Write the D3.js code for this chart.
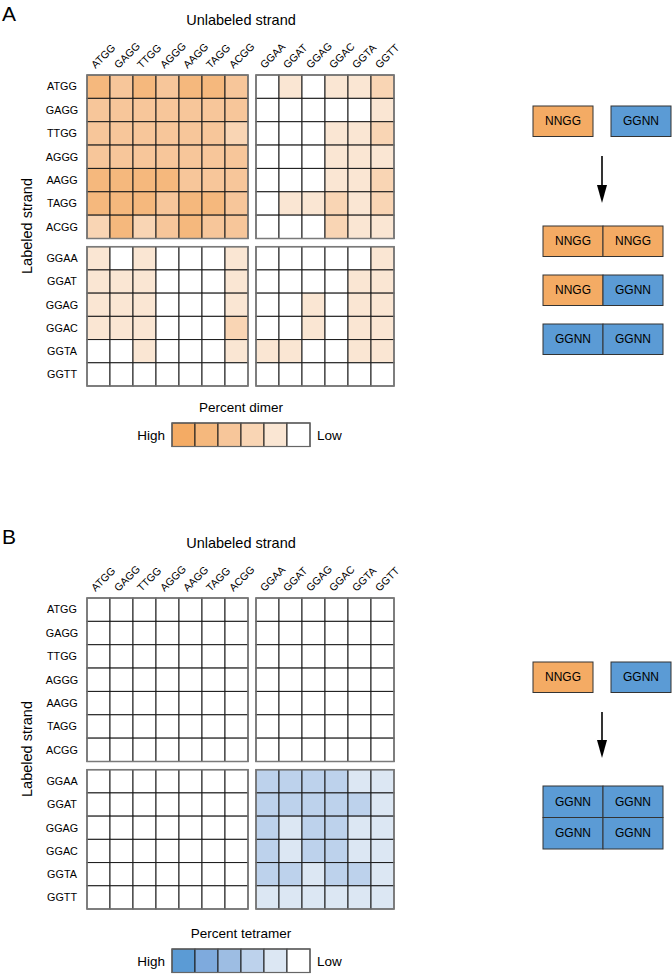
<!DOCTYPE html>
<html><head><meta charset="utf-8">
<script src="https://cdn.jsdelivr.net/npm/d3@7"></script>
<style>body{margin:0;background:#fff}svg{display:block;font-family:"Liberation Sans",Arial,sans-serif}</style>
</head><body>
<svg id="c" width="672" height="977"></svg>
<script>
// ---- data ----
const nnggSeqs = ["ATGG","GAGG","TTGG","AGGG","AAGG","TAGG","ACGG"];
const ggnnSeqs = ["GGAA","GGAT","GGAG","GGAC","GGTA","GGTT"];
// level codes: 1 = High ... 5 = lowest shaded, 0 = Low (white)
const dimerNN_NN = [
  [2,3,2,3,2,2,3],
  [3,3,3,3,3,3,3],
  [3,3,3,3,3,3,4],
  [3,3,3,3,3,3,3],
  [2,2,2,2,3,3,3],
  [2,2,2,3,2,2,3],
  [4,2,4,3,2,3,3]];
const dimerNN_GG = [
  [0,5,0,5,5,4],
  [0,0,0,0,0,5],
  [0,0,0,5,5,4],
  [0,0,0,5,5,5],
  [0,0,0,5,5,4],
  [0,5,5,4,5,4],
  [0,0,0,4,5,5]];
const dimerGG_NN = [
  [5,0,5,0,0,0,5],
  [5,5,5,0,0,0,5],
  [5,5,5,0,0,0,5],
  [5,5,5,0,0,0,4],
  [0,0,5,0,0,0,5],
  [0,0,0,0,0,0,0]];
const dimerGG_GG = [
  [0,0,0,0,0,5],
  [0,0,0,0,5,5],
  [0,0,5,0,5,5],
  [0,0,5,0,5,5],
  [5,5,0,0,5,5],
  [0,0,0,0,0,0]];
const tetNN_NN = nnggSeqs.map(() => nnggSeqs.map(() => 0));
const tetNN_GG = nnggSeqs.map(() => ggnnSeqs.map(() => 0));
const tetGG_NN = ggnnSeqs.map(() => nnggSeqs.map(() => 0));
const tetGG_GG = [
  [4,4,4,4,5,5],
  [4,4,4,4,4,5],
  [4,5,4,4,5,5],
  [4,5,4,4,5,5],
  [4,4,5,4,4,5],
  [5,5,5,5,5,5]];
const legendLevels = [1,2,3,4,5,0];
const orangeColors = ["#ffffff","#F4AB64","#F5B87D","#F7C69A","#F9D5B4","#FAE6D3"];
const blueColors   = ["#ffffff","#5B9BD5","#7EAADD","#9DBDE3","#BDD2EC","#DCE7F3"];

// ---- drawing ----
const svg = d3.select("#c");
const colL = d3.scaleBand().domain(nnggSeqs).range([87,248]);
const colR = d3.scaleBand().domain(ggnnSeqs).range([256,394]);

function block(g, rows, cols, rowScale, colScale, data, colors){
  const cells = [];
  rows.forEach((r,i)=>cols.forEach((c,j)=>cells.push({r,c,v:data[i][j]})));
  g.selectAll(null).data(cells).join("rect")
    .attr("x",d=>colScale(d.c)).attr("y",d=>rowScale(d.r))
    .attr("width",colScale.bandwidth()).attr("height",rowScale.bandwidth())
    .attr("fill",d=>colors[d.v]).attr("stroke","#1a1a1a").attr("stroke-width",1);
  const [x0,x1]=colScale.range(), [y0,y1]=rowScale.range();
  g.append("rect").attr("x",x0).attr("y",y0).attr("width",x1-x0).attr("height",y1-y0)
    .attr("fill","none").attr("stroke","#7a7a7a").attr("stroke-width",1.5);
}

function panel(oy, letter, mats, colors, legendTitle, diagram){
  const g = svg.append("g");
  const rowT = d3.scaleBand().domain(nnggSeqs).range([oy+75, oy+238.5]);
  const rowB = d3.scaleBand().domain(ggnnSeqs).range([oy+246.7, oy+386]);
  g.append("text").attr("x",2).attr("y",oy+21).attr("font-size",21).text(letter);
  g.append("text").attr("x",241).attr("y",oy+25).attr("text-anchor","middle").attr("font-size",14.5).text("Unlabeled strand");
  g.append("text").attr("transform",`translate(32,${oy+226}) rotate(-90)`).attr("text-anchor","middle").attr("font-size",14.5).text("Labeled strand");
  // column labels
  [[nnggSeqs,colL],[ggnnSeqs,colR]].forEach(([seqs,sc])=>{
    g.selectAll(null).data(seqs).join("text")
      .attr("transform",d=>`translate(${sc(d)+sc.bandwidth()/2-3},${oy+69}) rotate(-45)`)
      .attr("font-size",10.5).text(d=>d);
  });
  // row labels
  [[nnggSeqs,rowT],[ggnnSeqs,rowB]].forEach(([seqs,sc])=>{
    g.selectAll(null).data(seqs).join("text")
      .attr("x",62).attr("y",d=>sc(d)+sc.bandwidth()/2+3.8)
      .attr("text-anchor","middle").attr("font-size",10.8).text(d=>d);
  });
  block(g, nnggSeqs, nnggSeqs, rowT, colL, mats[0], colors);
  block(g, nnggSeqs, ggnnSeqs, rowT, colR, mats[1], colors);
  block(g, ggnnSeqs, nnggSeqs, rowB, colL, mats[2], colors);
  block(g, ggnnSeqs, ggnnSeqs, rowB, colR, mats[3], colors);
  // legend
  const ly = oy + legendTitle.y;
  const lx = d3.scaleBand().domain(legendLevels).range([172,310]);
  g.append("text").attr("x",241).attr("y",ly).attr("text-anchor","middle").attr("font-size",13.5).text(legendTitle.text);
  g.selectAll(null).data(legendLevels).join("rect")
    .attr("x",d=>lx(d)).attr("y",ly+11).attr("width",lx.bandwidth()).attr("height",23.5)
    .attr("fill",d=>colors[d]).attr("stroke","#1a1a1a").attr("stroke-width",1);
  g.append("rect").attr("x",172).attr("y",ly+11).attr("width",138).attr("height",23.5)
    .attr("fill","none").attr("stroke","#666").attr("stroke-width",1.2);
  g.append("text").attr("x",165).attr("y",ly+27.5).attr("text-anchor","end").attr("font-size",13.5).text("High");
  g.append("text").attr("x",317).attr("y",ly+27.5).attr("font-size",13.5).text("Low");
  diagram(g, oy);
}

const ORANGE = "#F4AB64", BLUE = "#5B9BD5";
function box(g, x, y, w, h, fill, label){
  g.append("rect").attr("x",x).attr("y",y).attr("width",w).attr("height",h)
    .attr("fill",fill).attr("stroke","#333").attr("stroke-width",1);
  g.append("text").attr("x",x+w/2).attr("y",y+h/2+4.2).attr("text-anchor","middle").attr("font-size",12).text(label);
}
function arrow(g, x, y0, y1){
  g.append("line").attr("x1",x).attr("x2",x).attr("y1",y0).attr("y2",y1-16).attr("stroke","#000").attr("stroke-width",1.6);
  g.append("path").attr("d",`M${x-5},${y1-18}L${x+5},${y1-18}L${x},${y1}Z`).attr("fill","#000");
}

panel(0, "A", [dimerNN_NN, dimerNN_GG, dimerGG_NN, dimerGG_GG], orangeColors,
  {text:"Percent dimer", y:412},
  (g, oy) => {
    box(g, 533, 106, 60, 30.5, ORANGE, "NNGG");
    box(g, 611, 106, 60, 30.5, BLUE, "GGNN");
    arrow(g, 602, 156, 203);
    const pairs = [[ORANGE,"NNGG",ORANGE,"NNGG"],[ORANGE,"NNGG",BLUE,"GGNN"],[BLUE,"GGNN",BLUE,"GGNN"]];
    pairs.forEach((p,i)=>{
      const y = 226 + i*49;
      box(g, 543, y, 60, 30.5, p[0], p[1]);
      box(g, 603, y, 60, 30.5, p[2], p[3]);
    });
  });

panel(523, "B", [tetNN_NN, tetNN_GG, tetGG_NN, tetGG_GG], blueColors,
  {text:"Percent tetramer", y:415},
  (g, oy) => {
    box(g, 533, 662, 60, 30.5, ORANGE, "NNGG");
    box(g, 611, 662, 60, 30.5, BLUE, "GGNN");
    arrow(g, 602, 712, 758);
    [0,1].forEach(i=>{
      box(g, 543, 786 + i*31.5, 60, 31.5, BLUE, "GGNN");
      box(g, 603, 786 + i*31.5, 60, 31.5, BLUE, "GGNN");
    });
  });
</script>
</body></html>
